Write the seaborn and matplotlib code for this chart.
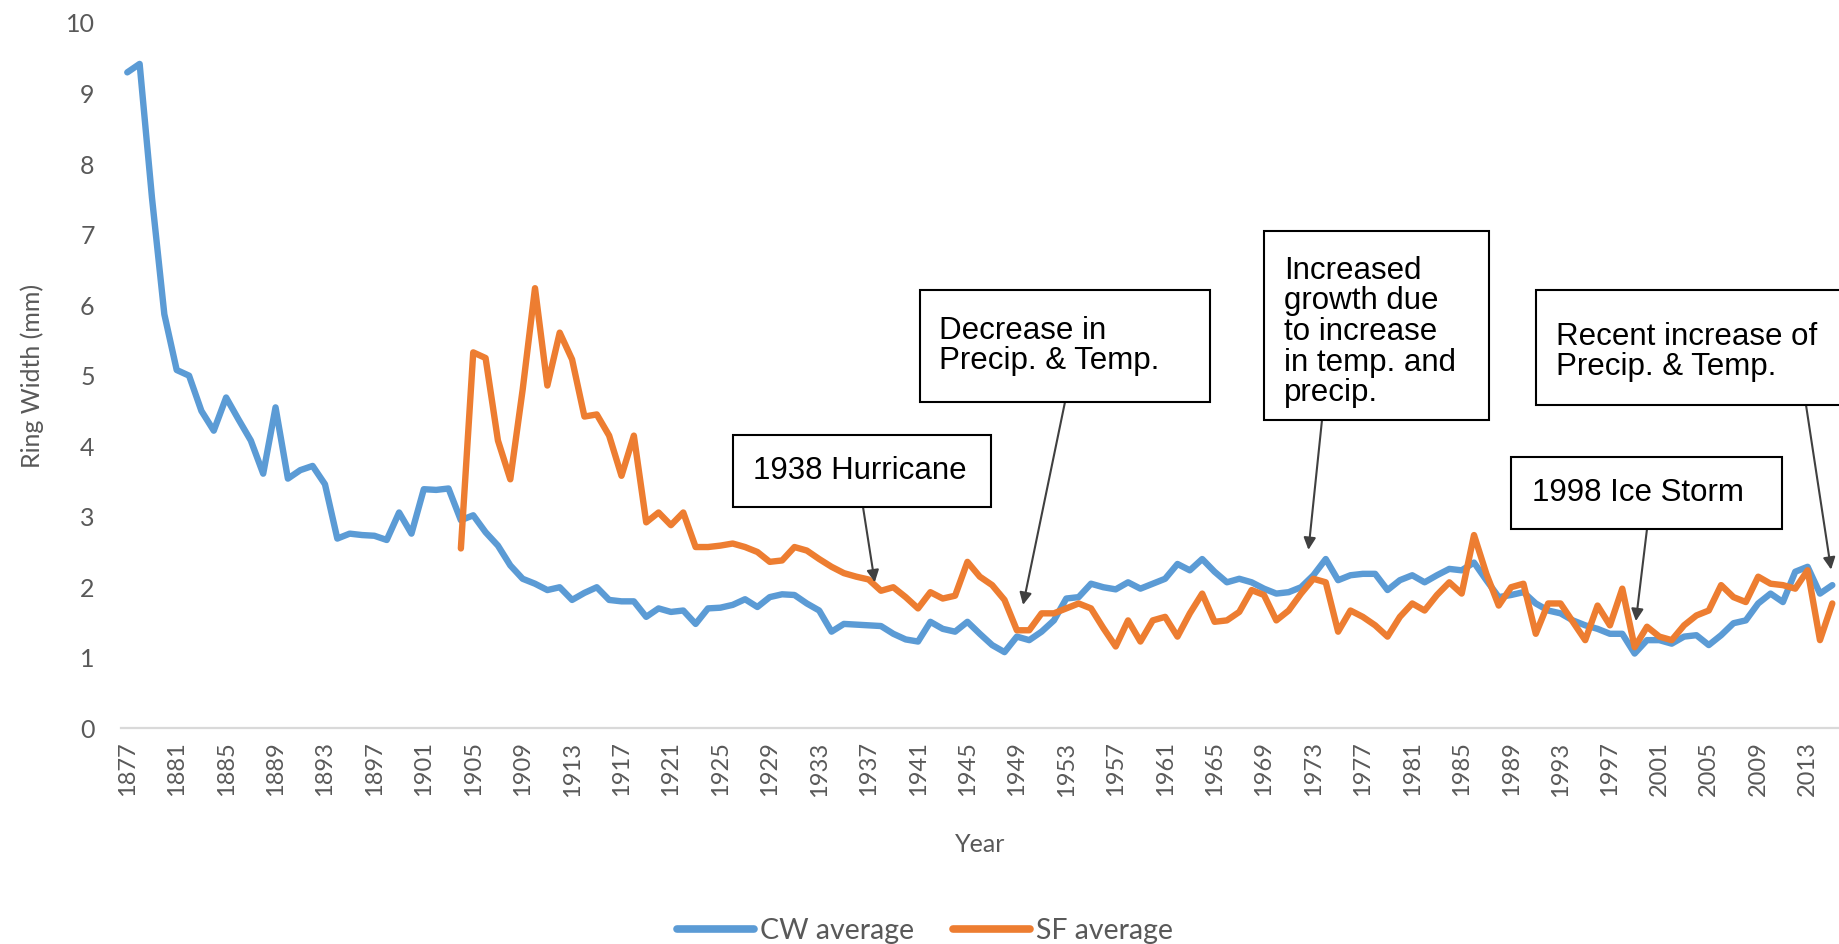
import numpy as np
import pandas as pd
import matplotlib
matplotlib.use("Agg")
import matplotlib.pyplot as plt
import seaborn as sns
from matplotlib.patches import Rectangle

# ---------------- data ----------------
years = list(range(1877, 2016))
cw_average = [
    9.30, 9.42, 7.52, 5.87, 5.08, 5.00, 4.50, 4.22, 4.69, 4.38,   # 1877-1886
    4.08, 3.61, 4.55, 3.54, 3.66, 3.72, 3.46, 2.69, 2.76, 2.74,   # 1887-1896
    2.73, 2.67, 3.06, 2.76, 3.39, 3.38, 3.40, 2.95, 3.02, 2.78,   # 1897-1906
    2.59, 2.31, 2.12, 2.05, 1.96, 2.00, 1.82, 1.92, 2.00, 1.82,   # 1907-1916
    1.80, 1.80, 1.58, 1.70, 1.65, 1.67, 1.48, 1.70, 1.71, 1.75,   # 1917-1926
    1.83, 1.72, 1.86, 1.90, 1.89, 1.77, 1.67, 1.37, 1.48, 1.47,   # 1927-1936
    1.46, 1.45, 1.34, 1.26, 1.23, 1.51, 1.41, 1.37, 1.51, 1.34,   # 1937-1946
    1.18, 1.08, 1.30, 1.25, 1.37, 1.53, 1.84, 1.86, 2.05, 2.00,   # 1947-1956
    1.97, 2.07, 1.98, 2.05, 2.12, 2.33, 2.24, 2.40, 2.22, 2.07,   # 1957-1966
    2.12, 2.07, 1.98, 1.91, 1.93, 2.00, 2.17, 2.40, 2.10, 2.17,   # 1967-1976
    2.19, 2.19, 1.96, 2.10, 2.17, 2.07, 2.17, 2.26, 2.24, 2.35,   # 1977-1986
    2.10, 1.86, 1.89, 1.93, 1.77, 1.67, 1.63, 1.53, 1.46, 1.41,   # 1987-1996
    1.34, 1.34, 1.06, 1.25, 1.25, 1.20, 1.30, 1.32, 1.18, 1.32,   # 1997-2006
    1.49, 1.53, 1.77, 1.91, 1.79, 2.22, 2.29, 1.91, 2.03,         # 2007-2015
]
sf_start_year = 1904
sf_average = [
    2.55, 5.33, 5.25, 4.08, 3.53, 4.80, 6.24, 4.86, 5.61, 5.23,   # 1904-1913
    4.42, 4.45, 4.15, 3.58, 4.15, 2.92, 3.06, 2.88, 3.06, 2.57,   # 1914-1923
    2.57, 2.59, 2.62, 2.57, 2.50, 2.36, 2.38, 2.57, 2.52, 2.40,   # 1924-1933
    2.29, 2.20, 2.15, 2.11, 1.95, 2.00, 1.86, 1.70, 1.93, 1.84,   # 1934-1943
    1.88, 2.36, 2.15, 2.03, 1.82, 1.39, 1.39, 1.63, 1.63, 1.70,   # 1944-1953
    1.77, 1.70, 1.42, 1.16, 1.53, 1.23, 1.53, 1.58, 1.30, 1.63,   # 1954-1963
    1.91, 1.51, 1.53, 1.65, 1.96, 1.89, 1.53, 1.67, 1.91, 2.12,   # 1964-1973
    2.07, 1.37, 1.67, 1.58, 1.46, 1.30, 1.58, 1.77, 1.67, 1.89,   # 1974-1983
    2.07, 1.91, 2.74, 2.19, 1.74, 2.00, 2.05, 1.34, 1.77, 1.77,   # 1984-1993
    1.51, 1.25, 1.74, 1.46, 1.98, 1.15, 1.44, 1.30, 1.25, 1.46,   # 1994-2003
    1.60, 1.67, 2.03, 1.86, 1.79, 2.15, 2.05, 2.03, 1.98, 2.24,   # 2004-2013
    1.25, 1.77,                                                   # 2014-2015
]
series_names = ["CW average", "SF average"]
y_ticks = list(range(0, 11))
x_ticks = list(range(1877, 2014, 4))

annotations = [
    # text, arrow target (year, value)
    ("1938 Hurricane", (1937.5, 2.07)),
    ("Decrease in\nPrecip. & Temp.", (1949.5, 1.75)),
    ("Increased\ngrowth due\nto increase\nin temp. and\nprecip.", (1972.6, 2.53)),
    ("1998 Ice Storm", (1999.1, 1.52)),
    ("Recent increase of\nPrecip. & Temp.", (2014.9, 2.25)),
]

# ---------------- frame ----------------
sf_years = list(range(sf_start_year, sf_start_year + len(sf_average)))
df = pd.concat([
    pd.DataFrame({"Year": years, "Ring Width": cw_average, "Series": series_names[0]}),
    pd.DataFrame({"Year": sf_years, "Ring Width": sf_average, "Series": series_names[1]}),
], ignore_index=True)

sns.set_style("white")
plt.rcParams["font.family"] = ["Lato", "DejaVu Sans"]

W, H, DPI = 1839, 944, 100
fig = plt.figure(figsize=(W / DPI, H / DPI), dpi=DPI)
fig.patch.set_facecolor("white")


def fx(px):
    return px / W


def fy(py):
    return 1 - py / H


ax = fig.add_axes([fx(121.1), fy(728.3), fx(1838.5) - fx(121.1), fy(23) - fy(728.3)])

palette = {"CW average": "#5B9BD5", "SF average": "#ED7D31"}
sns.lineplot(data=df, x="Year", y="Ring Width", hue="Series", palette=palette,
             estimator=None, linewidth=4.6, ax=ax, legend=False)
for ln in ax.lines:
    ln.set_solid_joinstyle("round")
    ln.set_solid_capstyle("round")

ax.set_xlim(1876.5, 2015.5)
ax.set_ylim(0, 10)
ax.set_yticks(y_ticks)
ax.set_yticklabels([str(t) for t in y_ticks])
ax.set_xticks(x_ticks)
ax.set_xticklabels([str(t) for t in x_ticks], rotation=90)

for s in ["top", "right", "left"]:
    ax.spines[s].set_visible(False)
ax.spines["bottom"].set_color("#D9D9D9")
ax.spines["bottom"].set_linewidth(1.6)
ax.grid(False)

gray = "#595959"
ax.tick_params(axis="y", length=0, pad=19, labelsize=18, labelcolor=gray)
ax.tick_params(axis="x", length=0, pad=9.5, labelsize=17, labelcolor=gray)

ax.set_ylabel("Ring Width (mm)", fontsize=18, color=gray)
ax.yaxis.set_label_coords(-0.045, 0.5)
ax.set_xlabel("Year", fontsize=18, color=gray)
ax.xaxis.set_label_coords(0.5, -0.148)

handles = [plt.Line2D([], [], color=palette[n], lw=5.5) for n in series_names]
fig.legend(handles, series_names, loc="center", bbox_to_anchor=(fx(925), fy(931)),
           ncol=2, frameon=False, handlelength=2.7, handletextpad=0.2,
           columnspacing=1.4, prop={"family": "Lato", "size": 20.5}, labelcolor=gray)

# ---------------- annotation boxes ----------------
boxes = [
    # (x0, y0, x1, y1) box, text left x, text centre y, arrow tail (x, y)  [figure pixels]
    ((733, 435, 991, 507), 753, 471, (863, 507)),
    ((920, 290, 1210, 402), 939, 346, (1065, 402)),
    ((1264, 231, 1489, 420), 1284, 332, (1322, 420)),
    ((1511, 457, 1782, 529), 1532, 493, (1647, 529)),
    ((1536, 290, 1870, 405), 1556, 352, (1806, 405)),
]
for (text, target), ((x0, y0, x1, y1), tx, ty, tail) in zip(annotations, boxes):
    rect = Rectangle((fx(x0), fy(y1)), fx(x1) - fx(x0), fy(y0) - fy(y1),
                     transform=fig.transFigure, facecolor="white",
                     edgecolor="black", linewidth=1.5, zorder=5)
    fig.add_artist(rect)
    fig.text(fx(tx), fy(ty), text, ha="left", va="center",
             fontsize=22.5, family=["Liberation Sans", "DejaVu Sans"],
             color="black", linespacing=1.03, zorder=6)
    ax.annotate("", xy=target, xycoords="data",
                xytext=(fx(tail[0]), fy(tail[1])), textcoords="figure fraction",
                arrowprops=dict(arrowstyle="-|>", color="#404040", lw=1.5,
                                mutation_scale=18, shrinkA=0, shrinkB=0),
                zorder=4)

fig.savefig("out.png", dpi=DPI)
